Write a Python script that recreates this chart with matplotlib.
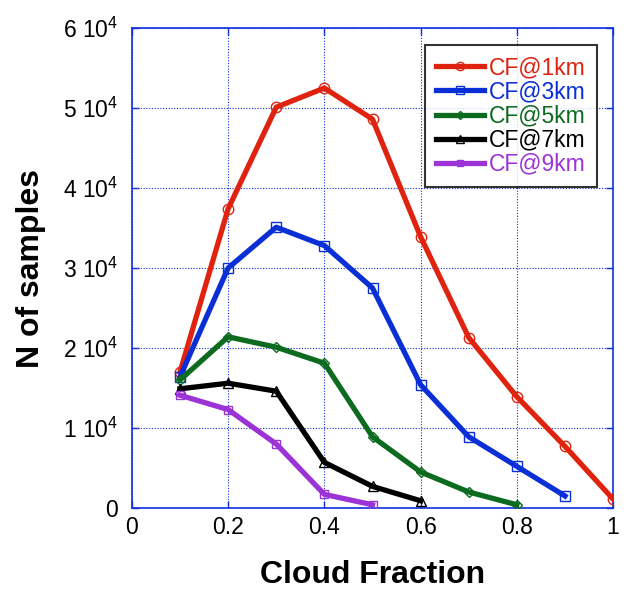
import matplotlib
matplotlib.use("Agg")
import matplotlib.pyplot as plt

plt.rcParams['font.family'] = ['Liberation Sans', 'DejaVu Sans']
plt.rcParams['mathtext.fontset'] = 'custom'
plt.rcParams['mathtext.rm'] = 'Liberation Sans'
plt.rcParams['mathtext.it'] = 'Liberation Sans'

cf = [0.1, 0.2, 0.3, 0.4, 0.5, 0.6, 0.7, 0.8, 0.9, 1.0]
cf1 = [17000, 37400, 50100, 52500, 48600, 33900, 21300, 13900, 7700, 1100]
cf3 = [16400, 30000, 35100, 32800, 27500, 15400, 8900, 5200, 1500]
cf5 = [16000, 21400, 20100, 18100, 8900, 4500, 2000, 400]
cf7 = [14900, 15600, 14600, 5700, 2700, 900]
cf9 = [14100, 12300, 8000, 1700, 400]

series = [
    ("CF@1km", cf1, "#e0230f", "o"),
    ("CF@3km", cf3, "#0a2fd6", "s"),
    ("CF@5km", cf5, "#0c6b1e", "D"),
    ("CF@7km", cf7, "#000000", "^"),
    ("CF@9km", cf9, "#9b33d6", "s"),
]

fig = plt.figure(figsize=(6.25, 5.9), dpi=100)
ax = fig.add_axes([0.211, 0.139, 0.77, 0.8135])

for label, vals, col, mk in series:
    ms = 7.5
    if mk == "D":
        ms = 5
    if label == "CF@9km":
        ms = 6
    ax.plot(cf[:len(vals)], vals, color=col, lw=3.8, marker=mk, ms=ms,
            mfc='none', mec=col, mew=1.0, label=label, zorder=3)

ax.set_xlim(0, 1)
ax.set_ylim(0, 60000)
ax.set_xticks([0, 0.2, 0.4, 0.6, 0.8, 1.0])
ax.set_xticklabels(["0", "0.2", "0.4", "0.6", "0.8", "1"])
yt = [0, 10000, 20000, 30000, 40000, 50000, 60000]
ax.set_yticks(yt)
ax.set_yticklabels(["0"] + [f"{i} 10$^{{4}}$" for i in range(1, 7)])

for s in ax.spines.values():
    s.set_color("#1030e0")
    s.set_linewidth(1.2)
ax.tick_params(direction='in', colors="#1030e0", labelcolor='black',
               labelsize=16.5, length=5, width=1.0, right=True, top=True)
ax.tick_params(axis='y', pad=10)
ax.tick_params(axis='x', pad=6)
ax.grid(True, color="#1030e0", linestyle=(0, (1, 1.5)), linewidth=0.8)
ax.set_axisbelow(True)

ax.set_xlabel("Cloud Fraction", fontsize=23, fontweight='bold', labelpad=15)
ax.set_ylabel("N of samples", fontsize=23, fontweight='bold', labelpad=12)

leg = ax.legend(loc='upper right', bbox_to_anchor=(0.967, 0.965),
                borderaxespad=0, fontsize=16.5,
                frameon=True, fancybox=False, edgecolor='black',
                handlelength=2.1, handletextpad=0.2, borderpad=0.5,
                labelspacing=0.05, markerscale=0.8)
leg.get_frame().set_linewidth(1.5)
for txt, (_, _, col, _) in zip(leg.get_texts(), series):
    txt.set_color(col)

fig.savefig("out.png", dpi=100)
